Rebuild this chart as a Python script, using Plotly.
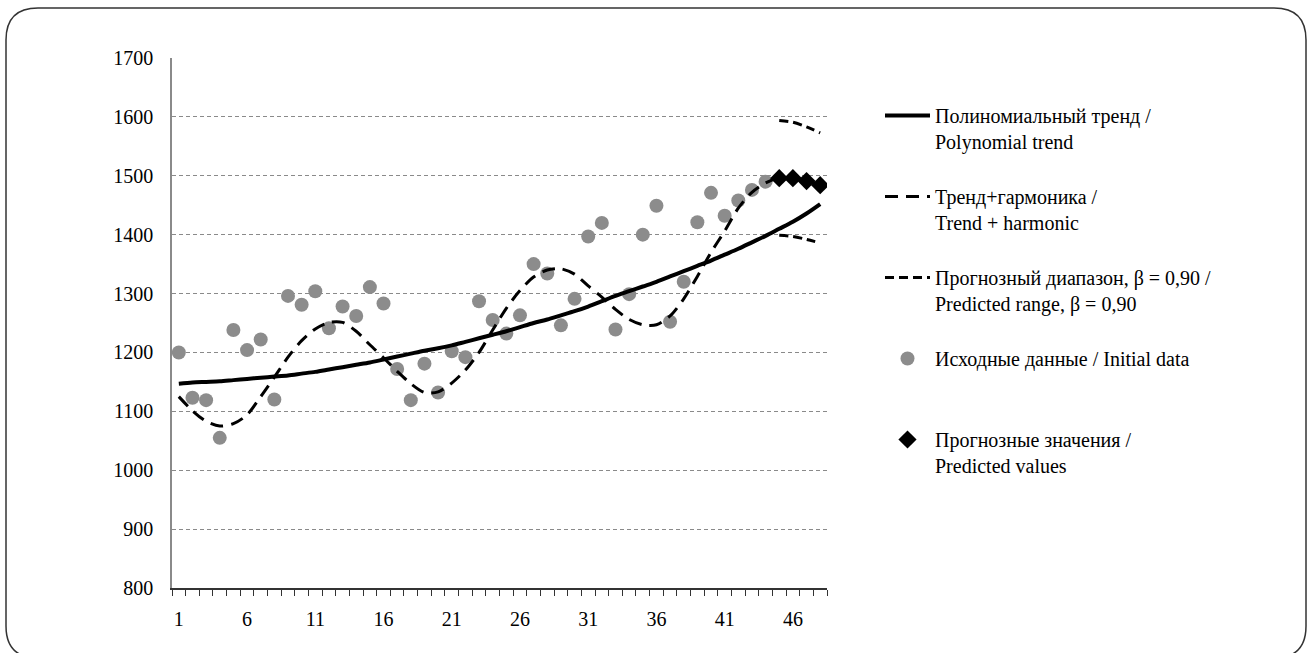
import plotly.graph_objects as go

# Time index: 44 observed periods followed by a 4-step forecast
t_all = list(range(1, 49))
t_obs = list(range(1, 45))
t_fc = [45, 46, 47, 48]

# Observed series
initial_data = [
    1200, 1123, 1119, 1055, 1238, 1204, 1222, 1120, 1296, 1281,
    1304, 1241, 1278, 1262, 1311, 1283, 1172, 1119, 1181, 1132,
    1202, 1192, 1287, 1255, 1232, 1263, 1350, 1334, 1246, 1291,
    1397, 1420, 1239, 1299, 1400, 1449, 1252, 1320, 1421, 1471,
    1432, 1458, 1476, 1490,
]

# Polynomial trend over the whole horizon
poly_trend = [
    1147, 1149, 1150, 1151, 1153, 1155, 1157, 1159, 1161, 1164,
    1167, 1171, 1175, 1179, 1183, 1188, 1193, 1198, 1203, 1207,
    1212, 1218, 1224, 1230, 1236, 1243, 1250, 1256, 1263, 1270,
    1278, 1287, 1296, 1304, 1312, 1320, 1329, 1338, 1347, 1356,
    1366, 1376, 1387, 1398, 1410, 1422, 1436, 1452,
]

# Trend plus harmonic component
trend_harmonic = [
    1125, 1101, 1083, 1075, 1079, 1094, 1125, 1158, 1192, 1220,
    1240, 1251, 1251, 1236, 1213, 1191, 1168, 1147, 1132, 1133,
    1148, 1170, 1200, 1238, 1275, 1305, 1328, 1340, 1342, 1333,
    1313, 1294, 1273, 1256, 1247, 1247, 1262, 1291, 1329, 1370,
    1406, 1445, 1472, 1488, 1496, 1496, 1491, 1484,
]

# Forecast values and the 0.90 prediction band
predicted = [1496, 1496, 1491, 1484]
range_upper = [1594, 1591, 1583, 1573]
range_lower = [1399, 1397, 1392, 1386]

y_ticks = list(range(800, 1701, 100))
x_tick_vals = list(range(1, 48, 5))

FONT = "Liberation Serif, Times New Roman, serif"

# Plot-area geometry in pixels
W, H = 1311, 653
PL, PR, PT, PB = 172, 827, 58, 588


def px_x(px):
    return (px - PL) / (PR - PL)


def px_y(py):
    return (PB - py) / (PB - PT)


fig = go.Figure()

fig.add_trace(go.Scatter(
    x=t_obs, y=initial_data, mode="markers",
    name="Исходные данные / Initial data<br> ",
    marker=dict(symbol="circle", size=14, color="#8c8c8c"),
    legendgroup="data", legendrank=4,
))

fig.add_trace(go.Scatter(
    x=t_all, y=poly_trend, mode="lines",
    name="Полиномиальный тренд /<br>Polynomial trend",
    line=dict(color="black", width=4, shape="spline", smoothing=0.8),
    legendgroup="trend", legendrank=1,
))

fig.add_trace(go.Scatter(
    x=t_all, y=trend_harmonic, mode="lines",
    name="Тренд+гармоника /<br>Trend + harmonic",
    line=dict(color="black", width=3, dash="13px,8px", shape="spline", smoothing=0.8),
    legendgroup="harmonic", legendrank=2,
))

fig.add_trace(go.Scatter(
    x=t_fc, y=range_upper, mode="lines",
    name="Прогнозный диапазон, β = 0,90 /<br>Predicted range, β = 0,90",
    line=dict(color="black", width=3, dash="9px,5px", shape="spline", smoothing=0.8),
    legendgroup="range", legendrank=3,
))

fig.add_trace(go.Scatter(
    x=t_fc, y=range_lower, mode="lines",
    name="Прогнозный диапазон, β = 0,90 /<br>Predicted range, β = 0,90",
    line=dict(color="black", width=3, dash="9px,5px", shape="spline", smoothing=0.8),
    legendgroup="range", showlegend=False,
))

fig.add_trace(go.Scatter(
    x=t_fc, y=predicted, mode="markers",
    name="Прогнозные значения /<br>Predicted values",
    marker=dict(symbol="diamond", size=14, color="black"),
    legendgroup="forecast", legendrank=5,
))

# Rounded outer frame around the whole chart
fx0, fx1, fy0, fy1, r = 6, 1306, 8, 658, 32
frame_path = (
    f"M {px_x(fx0 + r)} {px_y(fy0)} L {px_x(fx1 - r)} {px_y(fy0)} "
    f"Q {px_x(fx1)} {px_y(fy0)} {px_x(fx1)} {px_y(fy0 + r)} "
    f"L {px_x(fx1)} {px_y(fy1 - r)} "
    f"Q {px_x(fx1)} {px_y(fy1)} {px_x(fx1 - r)} {px_y(fy1)} "
    f"L {px_x(fx0 + r)} {px_y(fy1)} "
    f"Q {px_x(fx0)} {px_y(fy1)} {px_x(fx0)} {px_y(fy1 - r)} "
    f"L {px_x(fx0)} {px_y(fy0 + r)} "
    f"Q {px_x(fx0)} {px_y(fy0)} {px_x(fx0 + r)} {px_y(fy0)} Z"
)

fig.update_layout(
    width=W, height=H,
    margin=dict(l=PL, r=W - PR, t=PT, b=H - PB),
    paper_bgcolor="white", plot_bgcolor="white",
    font=dict(family=FONT, size=20, color="black"),
    shapes=[dict(type="path", xref="paper", yref="paper", path=frame_path,
                 line=dict(color="#333333", width=1.5), layer="below")],
    legend=dict(
        x=px_x(880), y=px_y(96), xanchor="left", yanchor="top",
        font=dict(family=FONT, size=20, color="black"),
        traceorder="grouped", tracegroupgap=26, valign="top",
        itemwidth=45, bgcolor="rgba(0,0,0,0)",
    ),
    showlegend=True,
)

fig.update_xaxes(
    range=[0.5, 48.5], showgrid=False, zeroline=False,
    showline=True, linecolor="#333333", linewidth=1.5,
    tickmode="array", tickvals=x_tick_vals, ticktext=[str(v) for v in x_tick_vals],
    ticks="", ticklabelstandoff=12,
    minor=dict(tickmode="linear", tick0=0.5, dtick=1, ticks="outside",
               ticklen=6, tickcolor="#333333", tickwidth=1, showgrid=False),
    tickfont=dict(family=FONT, size=20),
)

fig.update_yaxes(
    range=[800, 1700], tickmode="array", tickvals=y_ticks,
    showgrid=True, gridcolor="#8a8a8a", gridwidth=1, griddash="4px,3px",
    zeroline=False, showline=True, linecolor="#8a8a8a", linewidth=1.5,
    ticks="", ticklabelstandoff=13,
    tickfont=dict(family=FONT, size=20),
)

fig.write_html("out.html")
